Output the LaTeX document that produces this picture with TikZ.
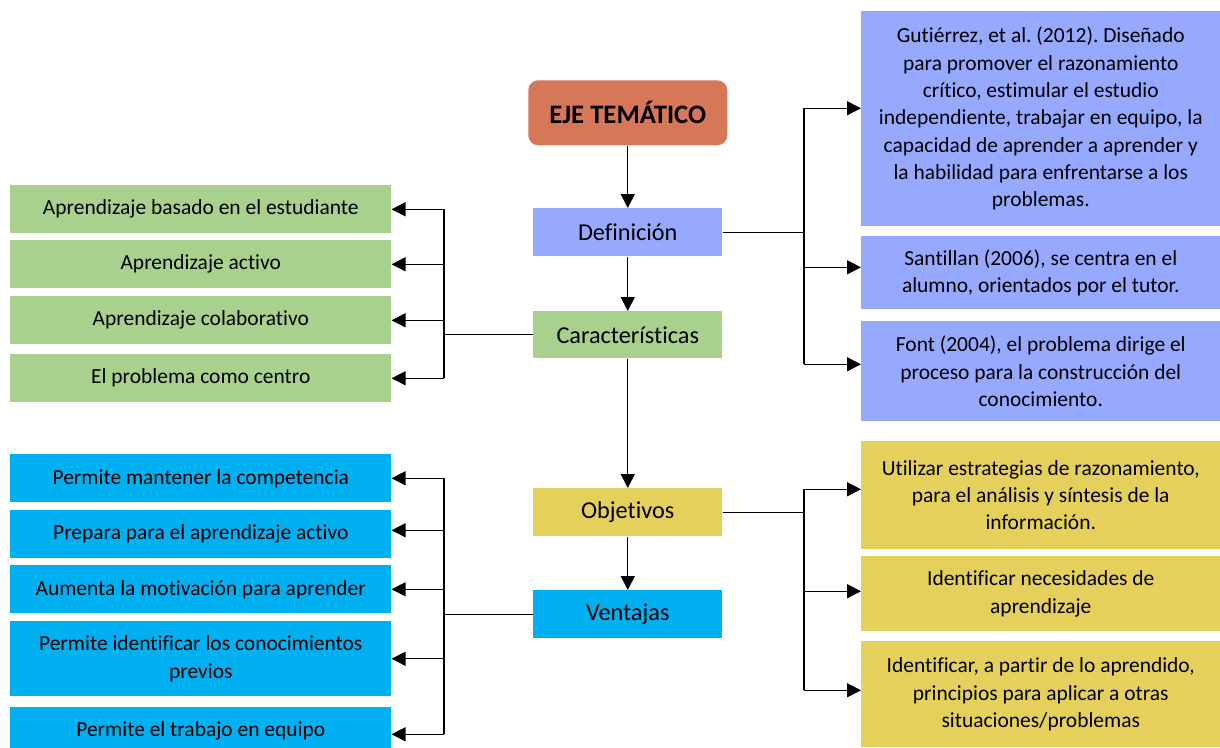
\documentclass[tikz,border=0pt]{standalone}
\usepackage{fontspec}
\setmainfont[Ligatures=NoCommon]{Carlito}
\usetikzlibrary{arrows.meta}
\definecolor{cOr}{RGB}{214,119,88}
\definecolor{cPe}{RGB}{151,169,255}
\definecolor{cGr}{RGB}{169,209,142}
\definecolor{cYe}{RGB}{228,208,90}
\definecolor{cCy}{RGB}{0,176,240}
\frenchspacing
\begin{document}
\begin{tikzpicture}[x=0.75pt,y=-0.75pt,
  bx/.style={inner sep=0pt, anchor=north west, align=center, font=\fontsize{16.1}{20.5}\selectfont},
  mid/.style={bx, w=141.75pt, h=36pt, font=\fontsize{18.2}{22}\selectfont},
  w/.style={minimum width=#1},
  h/.style={minimum height=#1},
  ln/.style={line width=1pt, draw=black},
  arr/.style={ln, -{Triangle[length=10.5pt,width=10.5pt]}}]
\useasboundingbox (0,0) rectangle (1220,747);
% center column
\node[bx, fill=cOr, rounded corners=7.5pt, w=149.25pt, h=48.75pt, font=\bfseries\fontsize{20}{24}\selectfont] (eje) at (528,80) {EJE TEMÁTICO};
\node[mid, fill=cPe] (def) at (533,208) {Definición};
\node[mid, fill=cGr, h=35.25pt] (car) at (533,311) {Características};
\node[mid, fill=cYe] (obj) at (533,488) {Objetivos};
\node[mid, fill=cCy] (ven) at (533,590) {Ventajas};
% left green
\node[bx, fill=cGr, w=285.75pt, h=36pt] (g1) at (10,185) {Aprendizaje basado en el estudiante};
\node[bx, fill=cGr, w=285.75pt, h=36pt] (g2) at (10,240) {Aprendizaje activo};
\node[bx, fill=cGr, w=285.75pt, h=36pt] (g3) at (10,296) {Aprendizaje colaborativo};
\node[bx, fill=cGr, w=285.75pt, h=36pt] (g4) at (10,354) {El problema como centro};
% left blue
\node[bx, fill=cCy, w=285.75pt, h=36pt] (b1) at (10,454) {Permite mantener la competencia};
\node[bx, fill=cCy, w=285.75pt, h=36pt] (b2) at (10,510) {Prepara para el aprendizaje activo};
\node[bx, fill=cCy, w=285.75pt, h=36pt] (b3) at (10,565) {Aumenta la motivación para aprender};
\node[bx, fill=cCy, w=285.75pt, h=56.25pt] (b4) at (10,621) {Permite identificar los conocimientos\\previos};
\node[bx, fill=cCy, w=285.75pt, h=36pt] (b5) at (10,707) {Permite el trabajo en equipo};
% right periwinkle
\node[bx, fill=cPe, w=269.25pt, h=161.25pt] (d1) at (861,11) {Gutiérrez, et al. (2012). Diseñado\\para promover el razonamiento\\crítico, estimular el estudio\\independiente, trabajar en equipo, la\\capacidad de aprender a aprender y\\la habilidad para enfrentarse a los\\problemas.};
\node[bx, fill=cPe, w=269.25pt, h=54.75pt] (d2) at (861,236) {Santillan (2006), se centra en el\\alumno, orientados por el tutor.};
\node[bx, fill=cPe, w=269.25pt, h=75pt] (d3) at (861,321) {Font (2004), el problema dirige el\\proceso para la construcción del\\conocimiento.};
% right yellow
\node[bx, fill=cYe, w=269.25pt, h=81pt] (y1) at (861,441) {Utilizar estrategias de razonamiento,\\para el análisis y síntesis de la\\información.};
\node[bx, fill=cYe, w=269.25pt, h=56.25pt] (y2) at (861,556) {Identificar necesidades de\\aprendizaje};
\node[bx, fill=cYe, w=269.25pt, h=79.5pt] (y3) at (861,641) {Identificar, a partir de lo aprendido,\\principios para aplicar a otras\\situaciones/problemas};
% vertical chain
\draw[arr] (eje.south) -- (def.north);
\draw[arr] (def.south) -- (car.north);
\draw[arr] (car.south) -- (obj.north);
\draw[arr] (obj.south) -- (ven.north);
% buses
\coordinate (bL) at (444,0);
\coordinate (bR) at (804,0);
% left green bus
\draw[ln] (car.west) -- (car.west -| bL);
\draw[ln] (g1.east -| bL) -- (g4.east -| bL);
\foreach \n in {g1,g2,g3,g4} \draw[arr] (\n.east -| bL) -- (\n.east);
% left blue bus
\coordinate (ab1) at (b1.east);
\coordinate (ab2) at ([yshift=3pt]b2.east);
\coordinate (ab3) at (b3.east);
\coordinate (ab4) at (b4.east);
\coordinate (ab5) at ([yshift=-2.25pt]b5.east);
\draw[ln] (ven.west) -- (ven.west -| bL);
\draw[ln] (ab1 -| bL) -- (ab5 -| bL);
\foreach \n in {ab1,ab2,ab3,ab4,ab5} \draw[arr] (\n -| bL) -- (\n);
% right periwinkle bus
\coordinate (ad1) at ([yshift=7.9pt]d1.west);
\coordinate (ad2) at ([yshift=4.1pt]d2.west);
\coordinate (ad3) at ([yshift=5.25pt]d3.west);
\draw[ln] (def.east) -- (def.east -| bR);
\draw[ln] (ad1 -| bR) -- (ad3 -| bR);
\foreach \n in {ad1,ad2,ad3} \draw[arr] (\n -| bR) -- (\n);
% right yellow bus
\coordinate (ay1) at ([yshift=4.5pt]y1.west);
\coordinate (ay2) at ([yshift=1.9pt]y2.west);
\coordinate (ay3) at ([yshift=3pt]y3.west);
\draw[ln] (obj.east) -- (obj.east -| bR);
\draw[ln] (ay1 -| bR) -- (ay3 -| bR);
\foreach \n in {ay1,ay2,ay3} \draw[arr] (\n -| bR) -- (\n);
\end{tikzpicture}
\end{document}
